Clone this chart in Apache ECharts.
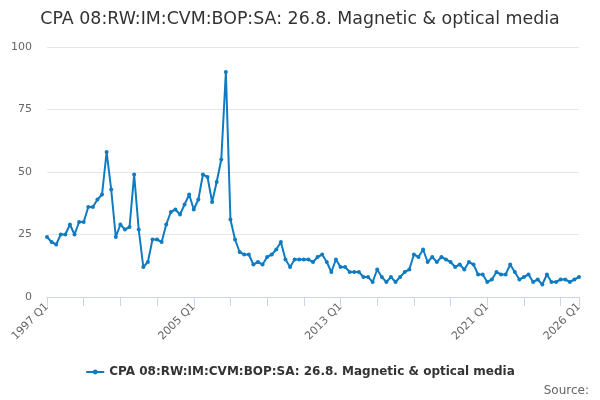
<!DOCTYPE html>
<html>
<head>
<meta charset="utf-8">
<script src="https://cdn.jsdelivr.net/npm/echarts@6/dist/echarts.min.js"></script>
<style>
  html, body { margin: 0; padding: 0; background: #fff; }
  #chart { width: 600px; height: 400px; }
</style>
</head>
<body>
<div id="chart"></div>
<script>
  const seriesName = "CPA 08:RW:IM:CVM:BOP:SA: 26.8. Magnetic & optical media";

  // quarters 1997 Q1 .. 2026 Q1
  const quarters = [];
  for (let y = 1997; y <= 2026; y++) {
    for (let q = 1; q <= 4; q++) {
      if (y === 2026 && q > 1) break;
      quarters.push(`${y} Q${q}`);
    }
  }

  const values = [
    24, 22, 21, 25, 25, 29, 25, 30, 30, 36,
    36, 39, 41, 58, 43, 24, 29, 27, 28, 49,
    27, 12, 14, 23, 23, 22, 29, 34, 35, 33,
    37, 41, 35, 39, 49, 48, 38, 46, 55, 90,
    31, 23, 18, 17, 17, 13, 14, 13, 16, 17,
    19, 22, 15, 12, 15, 15, 15, 15, 14, 16,
    17, 14, 10, 15, 12, 12, 10, 10, 10, 8,
    8, 6, 11, 8, 6, 8, 6, 8, 10, 11,
    17, 16, 19, 14, 16, 14, 16, 15, 14, 12,
    13, 11, 14, 13, 9, 9, 6, 7, 10, 9,
    9, 13, 10, 7, 8, 9, 6, 7, 5, 9,
    6, 6, 7, 7, 6, 7, 8
  ];

  const yTicks = [0, 25, 50, 75, 100];

  const last = quarters.length - 1;
  const font = "DejaVu Sans";

  const chart = echarts.init(document.getElementById("chart"));
  chart.setOption({
    animation: false,
    title: {
      text: seriesName,
      left: "center",
      top: 6,
      textStyle: { fontFamily: font, fontSize: 17.4, fontWeight: "normal", color: "#333" },
    },
    grid: { left: 47, right: 21, top: 47, bottom: 103 },
    legend: {
      bottom: 17,
      left: "center",
      itemWidth: 18,
      itemHeight: 6,
      itemGap: 6,
      textStyle: { fontFamily: font, fontSize: 12, fontWeight: "bold", color: "#333" },
      data: [seriesName],
    },
    xAxis: {
      type: "category",
      data: quarters,
      boundaryGap: false,
      axisLine: { lineStyle: { color: "#ccd6eb" } },
      axisTick: {
        length: 9,
        lineStyle: { color: "#ccd6eb" },
        interval: (i) => i % 8 === 0 || i === last,
      },
      axisLabel: {
        rotate: 45,
        margin: 8,
        fontFamily: font,
        fontSize: 11,
        color: "#666",
        interval: (i) => i % 32 === 0 || i === last,
      },
    },
    yAxis: {
      type: "value",
      min: yTicks[0],
      max: yTicks[yTicks.length - 1],
      interval: 25,
      axisLine: { show: false },
      axisTick: { show: false },
      splitLine: { lineStyle: { color: "#e6e6e6" } },
      axisLabel: { fontFamily: font, fontSize: 11, color: "#666", margin: 15 },
    },
    series: [{
      name: seriesName,
      type: "line",
      data: values,
      symbol: "circle",
      symbolSize: 4,
      showAllSymbol: true,
      lineStyle: { color: "#0e7bc2", width: 2 },
      itemStyle: { color: "#0e7bc2" },
    }],
    graphic: [{
      type: "text",
      right: 11,
      bottom: 3,
      style: { text: "Source:", fontFamily: font, fontSize: 12, fill: "#666" },
    }],
  });
</script>
</body>
</html>
